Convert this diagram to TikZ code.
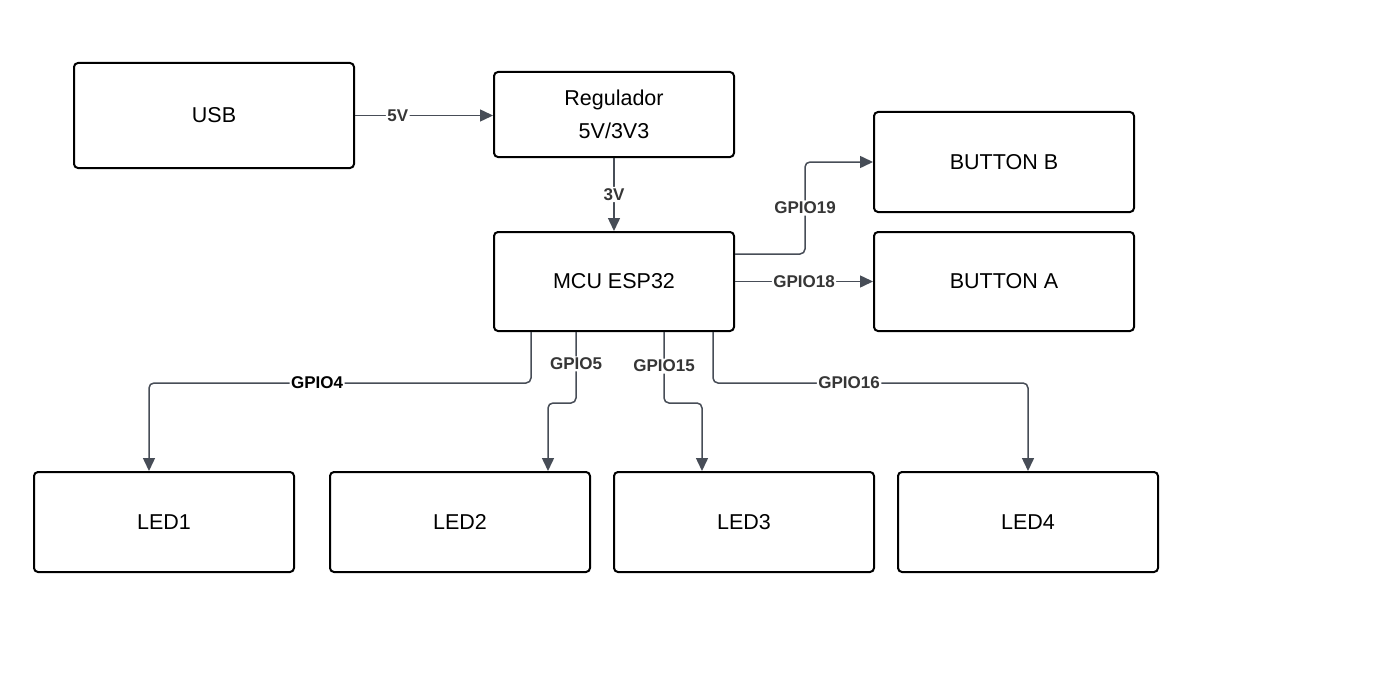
\documentclass[tikz,border=0pt]{standalone}
\usepackage{fontspec}
\setmainfont{Liberation Sans}
\usetikzlibrary{arrows.meta}
\definecolor{wire}{HTML}{474D57}
\definecolor{lbl}{HTML}{363636}
\begin{document}
\begin{tikzpicture}[x=1pt,y=-1pt,
  box/.style={draw=black, line width=2pt, rounded corners=4pt, inner sep=0pt,
    align=center, font=\fontsize{21.5}{33}\selectfont},
  wireline/.style={draw=wire, line width=1.5pt, rounded corners=5pt,
    -{Triangle[length=13pt,width=12pt]}},
  lab/.style={fill=white, inner sep=1.5pt, text=lbl, font=\bfseries\fontsize{17}{17}\selectfont}]
\useasboundingbox[fill=white] (0,0) rectangle (1394,698);

\node[box, minimum width=280, minimum height=105] (usb) at (214,115.5) {USB};
\node[box, minimum width=240, minimum height=85] (reg) at (614,114.5) {Regulador\\5V/3V3};
\node[box, minimum width=240, minimum height=99] (mcu) at (614,281.5) {MCU ESP32};
\node[box, minimum width=260, minimum height=100] (btnb) at (1004,162) {BUTTON B};
\node[box, minimum width=260, minimum height=99] (btna) at (1004,281.5) {BUTTON A};
\node[box, minimum width=260, minimum height=100] (led1) at (164,522) {LED1};
\node[box, minimum width=260, minimum height=100] (led2) at (460,522) {LED2};
\node[box, minimum width=260, minimum height=100] (led3) at (744,522) {LED3};
\node[box, minimum width=260, minimum height=100] (led4) at (1028,522) {LED4};

\draw[wireline] (usb.east) -- node[lab, pos=0.31] {5V} (usb.east -| reg.west);
\draw[wireline] (reg.south) -- node[lab] {3V} (mcu.north);
\draw[wireline] ([yshift=27.5pt]mcu.east) -- ++(70,0) |- node[lab, pos=0.25] {GPIO19} (btnb.west);
\draw[wireline] (mcu.east) -- node[lab] {GPIO18} (btna.west);
\draw[wireline] ([xshift=-83pt]mcu.south) -- ++(0,51) -| node[lab, pos=0.28, text=black] {GPIO4} ([xshift=-15pt]led1.north);
\draw[wireline] ([xshift=-38pt]mcu.south) -- node[lab, pos=0.45] {GPIO5} ++(0,71) -| ([xshift=88pt]led2.north);
\draw[wireline] ([xshift=50pt]mcu.south) -- node[lab, pos=0.48] {GPIO15} ++(0,71) -| ([xshift=-42pt]led3.north);
\draw[wireline] ([xshift=99pt]mcu.south) -- ++(0,51) -| node[lab, pos=0.216] {GPIO16} (led4.north);
\end{tikzpicture}
\end{document}
